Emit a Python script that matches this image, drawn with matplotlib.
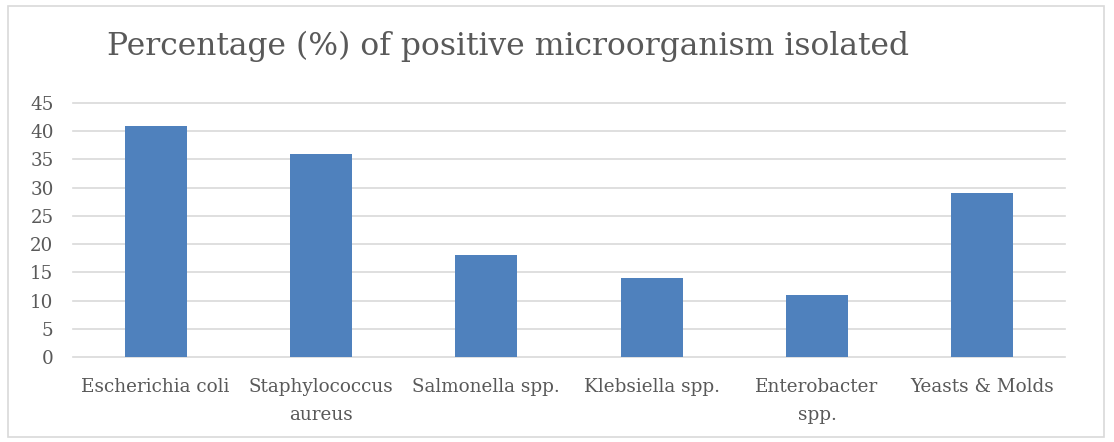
import matplotlib

matplotlib.use("Agg")
import matplotlib.pyplot as plt
from matplotlib.patches import Rectangle

categories = ["Escherichia coli", "Staphylococcus\naureus", "Salmonella spp.",
              "Klebsiella spp.", "Enterobacter\nspp.", "Yeasts & Molds"]
percent = [41, 36, 18, 14, 11, 29]
yticks = list(range(0, 50, 5))

BLUE, GRID, TEXT = "#4f81bd", "#d9d9d9", "#595959"
plt.rcParams["font.family"] = ["DejaVu Serif"]

fig = plt.figure(figsize=(11.14, 4.42), dpi=100)
fig.patches.append(Rectangle((8 / 1114, 0.012), 1096 / 1114, 0.975, transform=fig.transFigure,
                             fill=False, edgecolor=GRID, lw=1.2))
ax = fig.add_axes([73 / 1114, 1 - 357 / 442, (1065 - 73) / 1114, 254 / 442])

x = range(len(categories))
ax.bar(x, percent, width=0.375, color=BLUE, zorder=3)
ax.set_xlim(-0.5, len(categories) - 0.5)
ax.set_ylim(0, 45)
ax.set_yticks(yticks)
ax.set_xticks(list(x))
ax.set_xticklabels(categories, linespacing=1.7)
ax.tick_params(axis="y", length=0, pad=14, labelsize=13.2, labelcolor=TEXT)
ax.tick_params(axis="x", length=0, pad=15, labelsize=13.2, labelcolor=TEXT)
ax.grid(axis="y", color=GRID, lw=1.2, zorder=0)
for gl in ax.get_ygridlines():
    gl.set_clip_on(False)
for s in ax.spines.values():
    s.set_visible(False)

fig.text(107 / 1114, 1 - 55 / 442, "Percentage (%) of positive microorganism isolated",
         fontsize=22.6, color=TEXT, va="baseline", ha="left")

fig.savefig("out.png", dpi=100)
